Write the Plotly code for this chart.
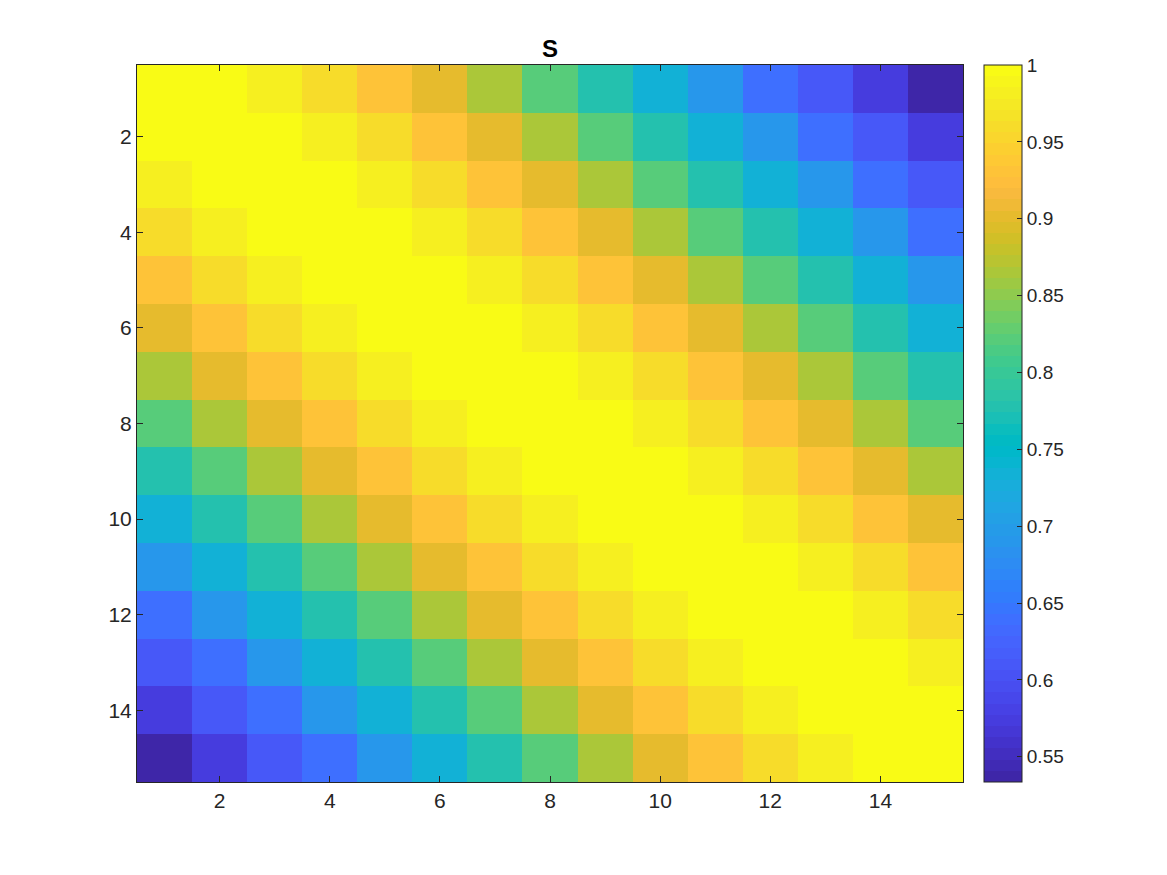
import plotly.graph_objects as go

# Values: S depends only on the offset |row - col|
decay_by_offset = [1.0, 0.997, 0.982, 0.960, 0.930, 0.901, 0.865, 0.821,
                   0.778, 0.734, 0.690, 0.639, 0.609, 0.573, 0.5336]
n = 15
rows = list(range(1, n + 1))
cols = list(range(1, n + 1))
S = [[decay_by_offset[abs(i - j)] for j in range(n)] for i in range(n)]

axis_ticks = [2, 4, 6, 8, 10, 12, 14]
cbar_ticks = [0.55, 0.6, 0.65, 0.7, 0.75, 0.8, 0.85, 0.9, 0.95, 1.0]
cbar_labels = ["0.55", "0.6", "0.65", "0.7", "0.75", "0.8", "0.85", "0.9", "0.95", "1"]
zmin, zmax = 0.5336, 1.0

# MATLAB parula(64)
parula = [
    (0.2422, 0.1504, 0.6603), (0.2504, 0.1650, 0.7076), (0.2578, 0.1818, 0.7511), (0.2647, 0.1978, 0.7952),
    (0.2706, 0.2147, 0.8364), (0.2751, 0.2342, 0.8710), (0.2783, 0.2559, 0.8991), (0.2803, 0.2782, 0.9221),
    (0.2813, 0.3006, 0.9414), (0.2810, 0.3228, 0.9579), (0.2795, 0.3447, 0.9717), (0.2760, 0.3667, 0.9829),
    (0.2699, 0.3892, 0.9906), (0.2602, 0.4123, 0.9952), (0.2440, 0.4358, 0.9988), (0.2206, 0.4603, 0.9973),
    (0.1963, 0.4847, 0.9892), (0.1834, 0.5074, 0.9798), (0.1786, 0.5289, 0.9682), (0.1764, 0.5499, 0.9520),
    (0.1687, 0.5703, 0.9359), (0.1540, 0.5902, 0.9218), (0.1460, 0.6091, 0.9079), (0.1380, 0.6276, 0.8973),
    (0.1248, 0.6459, 0.8883), (0.1113, 0.6635, 0.8763), (0.0952, 0.6798, 0.8598), (0.0689, 0.6948, 0.8394),
    (0.0297, 0.7082, 0.8163), (0.0036, 0.7203, 0.7917), (0.0067, 0.7312, 0.7660), (0.0433, 0.7411, 0.7394),
    (0.0964, 0.7500, 0.7120), (0.1408, 0.7584, 0.6842), (0.1717, 0.7670, 0.6554), (0.1938, 0.7758, 0.6251),
    (0.2161, 0.7843, 0.5923), (0.2470, 0.7918, 0.5567), (0.2906, 0.7973, 0.5188), (0.3406, 0.8008, 0.4789),
    (0.3909, 0.8029, 0.4354), (0.4456, 0.8024, 0.3909), (0.5044, 0.7993, 0.3480), (0.5616, 0.7942, 0.3045),
    (0.6174, 0.7876, 0.2612), (0.6720, 0.7793, 0.2227), (0.7242, 0.7698, 0.1910), (0.7738, 0.7598, 0.1646),
    (0.8203, 0.7498, 0.1535), (0.8634, 0.7406, 0.1596), (0.9035, 0.7330, 0.1774), (0.9393, 0.7288, 0.2100),
    (0.9728, 0.7298, 0.2394), (0.9956, 0.7434, 0.2371), (0.9970, 0.7659, 0.2199), (0.9952, 0.7893, 0.2028),
    (0.9892, 0.8136, 0.1885), (0.9786, 0.8386, 0.1766), (0.9676, 0.8639, 0.1643), (0.9610, 0.8890, 0.1537),
    (0.9597, 0.9135, 0.1423), (0.9628, 0.9373, 0.1265), (0.9691, 0.9606, 0.1064), (0.9769, 0.9839, 0.0805),
]
colorscale = []
for k, (r, g, b) in enumerate(parula):
    c = "rgb(%d,%d,%d)" % (round(r * 255), round(g * 255), round(b * 255))
    colorscale.append([k / 64, c])
    colorscale.append([(k + 1) / 64, c])

W, H = 1167, 875
off = 8  # page body margin
ax_l, ax_r, ax_t, ax_b = 137 - off, 963 - off, 65 - off, 782 - off
cb_l = 984 - off
font = "Liberation Sans, Arial, Helvetica, sans-serif"
dark = "#262626"

fig = go.Figure(go.Heatmap(
    z=S, x=cols, y=rows,
    colorscale=colorscale, zmin=zmin, zmax=zmax,
    hoverinfo="skip",
    colorbar=dict(
        thickness=38, thicknessmode="pixels",
        len=ax_b - ax_t, lenmode="pixels",
        x=cb_l / W, xanchor="left", xpad=0,
        y=1 - ax_t / H, yanchor="top", ypad=0,
        outlinecolor=dark, outlinewidth=1,
        tickvals=cbar_ticks, ticktext=cbar_labels,
        ticks="inside", ticklen=5, tickcolor=dark,
        tickfont=dict(family=font, size=19, color=dark),
    ),
))

axis_common = dict(
    tickvals=axis_ticks, ticks="inside", ticklen=6, tickcolor=dark,
    showline=True, linecolor=dark, linewidth=1, mirror="ticks",
    showgrid=False, zeroline=False,
    tickfont=dict(family=font, size=21, color=dark),
)

fig.update_layout(
    width=W, height=H,
    margin=dict(l=0, r=0, t=0, b=0),
    paper_bgcolor="white", plot_bgcolor="white",
    title=dict(text="<b>S</b>", x=(ax_l + ax_r) / 2 / W, xanchor="center",
               y=1 - (49 - off) / H, yanchor="middle",
               font=dict(family=font, size=24, color="black")),
    xaxis=dict(domain=[ax_l / W, ax_r / W], range=[0.5, 15.5], **axis_common),
    yaxis=dict(domain=[1 - ax_b / H, 1 - ax_t / H], range=[15.5, 0.5], **axis_common),
)

fig.write_html("out.html")
